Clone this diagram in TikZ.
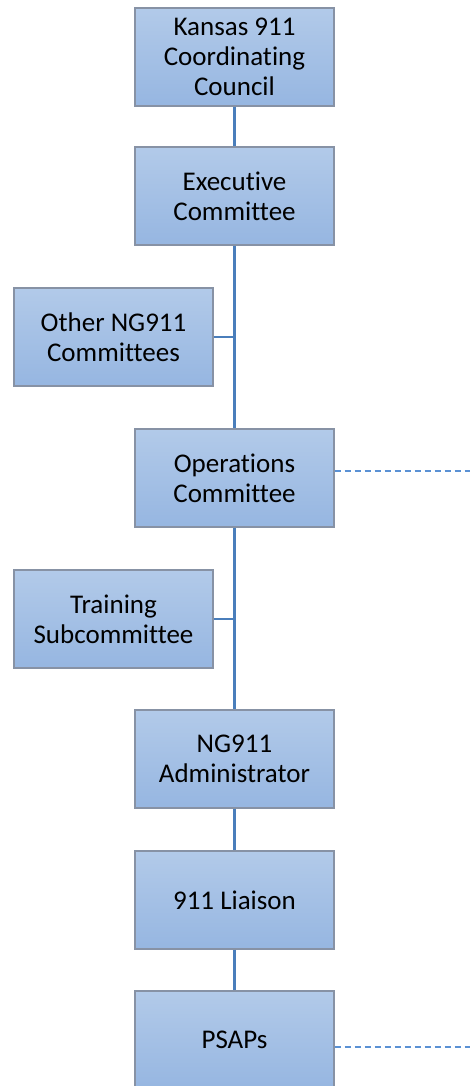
\documentclass[tikz,border=0pt]{standalone}
\usepackage{fontspec}
\setmainfont{Carlito}[Ligatures=NoCommon]
\usepackage{xcolor}

\definecolor{boxtop}{RGB}{178,202,233}
\definecolor{boxbot}{RGB}{150,182,225}
\definecolor{boxline}{RGB}{135,146,165}
\definecolor{spine}{RGB}{74,126,187}
\definecolor{dashblue}{RGB}{90,145,212}

\tikzset{
	orgbox/.style={draw=boxline, line width=1.4pt, top color=boxtop,
		bottom color=boxbot, minimum width=199pt, minimum height=98pt,
		inner sep=0pt, align=center,
		font=\fontsize{27}{30}\selectfont},
	link/.style={spine, line width=2.6pt},
	dashlink/.style={dashblue, line width=1.3pt, dash pattern=on 6pt off 4pt}
}

\begin{document}
\begin{tikzpicture}[x=1pt, y=-1pt]
	\useasboundingbox (0,0) rectangle (470,1086);
	% hauptspalte
	\node[orgbox] (council) at (234.5,57) {Kansas 911\\Coordinating\\Council};
	\node[orgbox] (exec) at (234.5,196) {Executive\\Committee};
	\node[orgbox] (ops) at (234.5,478) {Operations\\Committee};
	\node[orgbox] (admin) at (234.5,759) {NG911\\Administrator};
	\node[orgbox] (liaison) at (234.5,900) {911 Liaison};
	\node[orgbox] (psaps) at (234.5,1040) {PSAPs};
	% seitliche kaesten
	\node[orgbox] (other) at (113.5,337) {Other NG911\\Committees};
	\node[orgbox] (training) at (113.5,619) {Training\\Subcommittee};
	% verbindungen
	\draw[link] (council) -- (exec);
	\draw[link] (exec) -- (ops);
	\draw[link] (ops) -- (admin);
	\draw[link] (admin) -- (liaison);
	\draw[link] (liaison) -- (psaps);
	\draw[link] (other.east) -- (other.east -| exec.south);
	\draw[link] (training.east) -- (training.east -| ops.south);
	% gestrichelte linien nach rechts
	\coordinate (opsend) at (470,471);
	\coordinate (psapsend) at (470,1047);
	\draw[dashlink] (ops.east |- opsend) -- (opsend);
	\draw[dashlink] (psaps.east |- psapsend) -- (psapsend);
\end{tikzpicture}
\end{document}
